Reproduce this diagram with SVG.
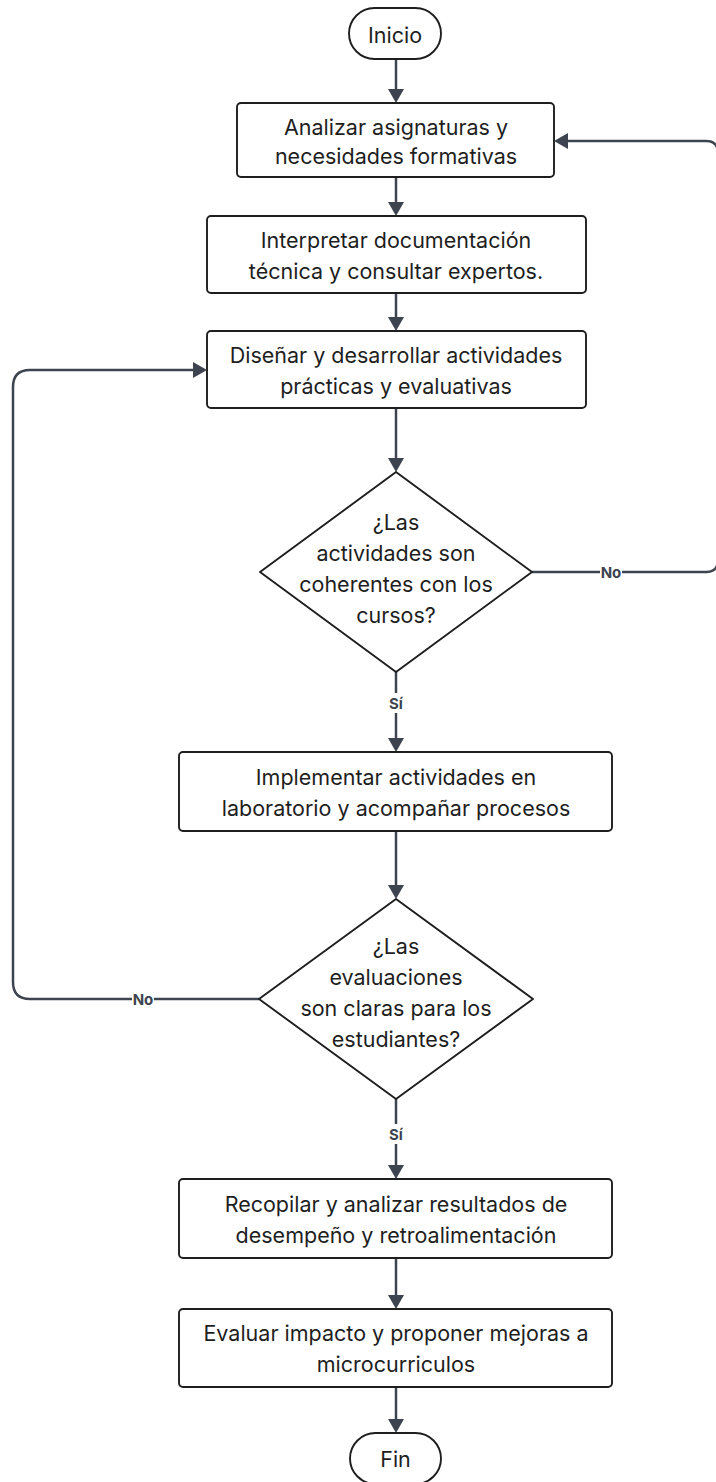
<svg xmlns="http://www.w3.org/2000/svg" width="716" height="1482" viewBox="0 0 716 1482">
<defs>
<marker id="ah" viewBox="0 0 14 16" refX="4" refY="8" markerWidth="14" markerHeight="16" markerUnits="userSpaceOnUse" orient="auto"><path d="M0,0 L14,8 L0,16 Z" fill="#3d4450"/></marker>
</defs>
<style>
.n{fill:#fff;stroke:#1e1e1e;stroke-width:1.9;stroke-linejoin:round}
.t{font-family:Inter,"Noto Sans",sans-serif;font-size:21.5px;fill:#1e1e1e;text-anchor:middle}
.c{fill:none;stroke:#3d4450;stroke-width:2.5}
.l{font-family:Inter,"Liberation Sans",sans-serif;font-size:15px;font-weight:700;fill:#3d4450;text-anchor:middle}
.bg{fill:#fff}
</style>
<rect width="716" height="1482" fill="#fff"/>
<g id="connectors">
<path class="c" d="M396,59 V93" marker-end="url(#ah)"/>
<path class="c" d="M396,177 V206" marker-end="url(#ah)"/>
<path class="c" d="M396,293 V321" marker-end="url(#ah)"/>
<path class="c" d="M396,408 V462" marker-end="url(#ah)"/>
<path class="c" d="M396,672 V742" marker-end="url(#ah)"/>
<path class="c" d="M396,831 V889" marker-end="url(#ah)"/>
<path class="c" d="M396,1099 V1169" marker-end="url(#ah)"/>
<path class="c" d="M396,1258 V1299" marker-end="url(#ah)"/>
<path class="c" d="M396,1387 V1423" marker-end="url(#ah)"/>
<path class="c" d="M532,572 H706 Q718,572 718,560 V153 Q718,141 706,141 H564" marker-end="url(#ah)"/>
<path class="c" d="M259,999 H30 Q13,999 13,982 V387 Q13,370 30,370 H197" marker-end="url(#ah)"/>
<rect class="bg" x="600" y="563" width="22" height="18"/>
<text class="l" x="611" y="577.5">No</text>
<rect class="bg" x="132" y="990" width="22" height="18"/>
<text class="l" x="143" y="1004.5">No</text>
<rect class="bg" x="386" y="693" width="20" height="20"/>
<text class="l" x="396" y="708.5">Sí</text>
<rect class="bg" x="386" y="1124" width="20" height="20"/>
<text class="l" x="396" y="1139.5">Sí</text>
</g>
<g id="inicio">
<rect class="n" x="349" y="8" width="92" height="51" rx="25.5"/>
<text class="t" x="395" y="43">Inicio</text>
</g>
<g id="analizar">
<rect class="n" x="237" y="103" width="317" height="74" rx="4"/>
<text class="t" x="396" y="134.5">Analizar asignaturas y</text>
<text class="t" x="396" y="164">necesidades formativas</text>
</g>
<g id="interpretar">
<rect class="n" x="207" y="216" width="379" height="77" rx="4"/>
<text class="t" x="396" y="247.5">Interpretar documentación</text>
<text class="t" x="396" y="278.5">técnica y consultar expertos.</text>
</g>
<g id="disenar">
<rect class="n" x="207" y="331" width="379" height="77" rx="4"/>
<text class="t" x="396" y="362.5">Diseñar y desarrollar actividades</text>
<text class="t" x="396" y="393.5">prácticas y evaluativas</text>
</g>
<g id="decision1">
<polygon class="n" points="396,472 532,572 396,672 260,572"/>
<text class="t" x="396" y="530">¿Las</text>
<text class="t" x="396" y="561">actividades son</text>
<text class="t" x="396" y="592">coherentes con los</text>
<text class="t" x="396" y="623">cursos?</text>
</g>
<g id="implementar">
<rect class="n" x="179" y="752" width="433" height="79" rx="4"/>
<text class="t" x="396" y="784.5">Implementar actividades en</text>
<text class="t" x="396" y="815.5">laboratorio y acompañar procesos</text>
</g>
<g id="decision2">
<polygon class="n" points="396,899 533,999 396,1099 259,999"/>
<text class="t" x="396" y="954">¿Las</text>
<text class="t" x="396" y="985">evaluaciones</text>
<text class="t" x="396" y="1016">son claras para los</text>
<text class="t" x="396" y="1047">estudiantes?</text>
</g>
<g id="recopilar">
<rect class="n" x="179" y="1179" width="433" height="79" rx="4"/>
<text class="t" x="396" y="1211.5">Recopilar y analizar resultados de</text>
<text class="t" x="396" y="1242.5">desempeño y retroalimentación</text>
</g>
<g id="evaluar">
<rect class="n" x="179" y="1309" width="433" height="78" rx="4"/>
<text class="t" x="396" y="1341">Evaluar impacto y proponer mejoras a</text>
<text class="t" x="396" y="1372">microcurriculos</text>
</g>
<g id="fin">
<rect class="n" x="350" y="1433" width="91" height="51" rx="25.5"/>
<text class="t" x="395.5" y="1467">Fin</text>
</g>
</svg>
